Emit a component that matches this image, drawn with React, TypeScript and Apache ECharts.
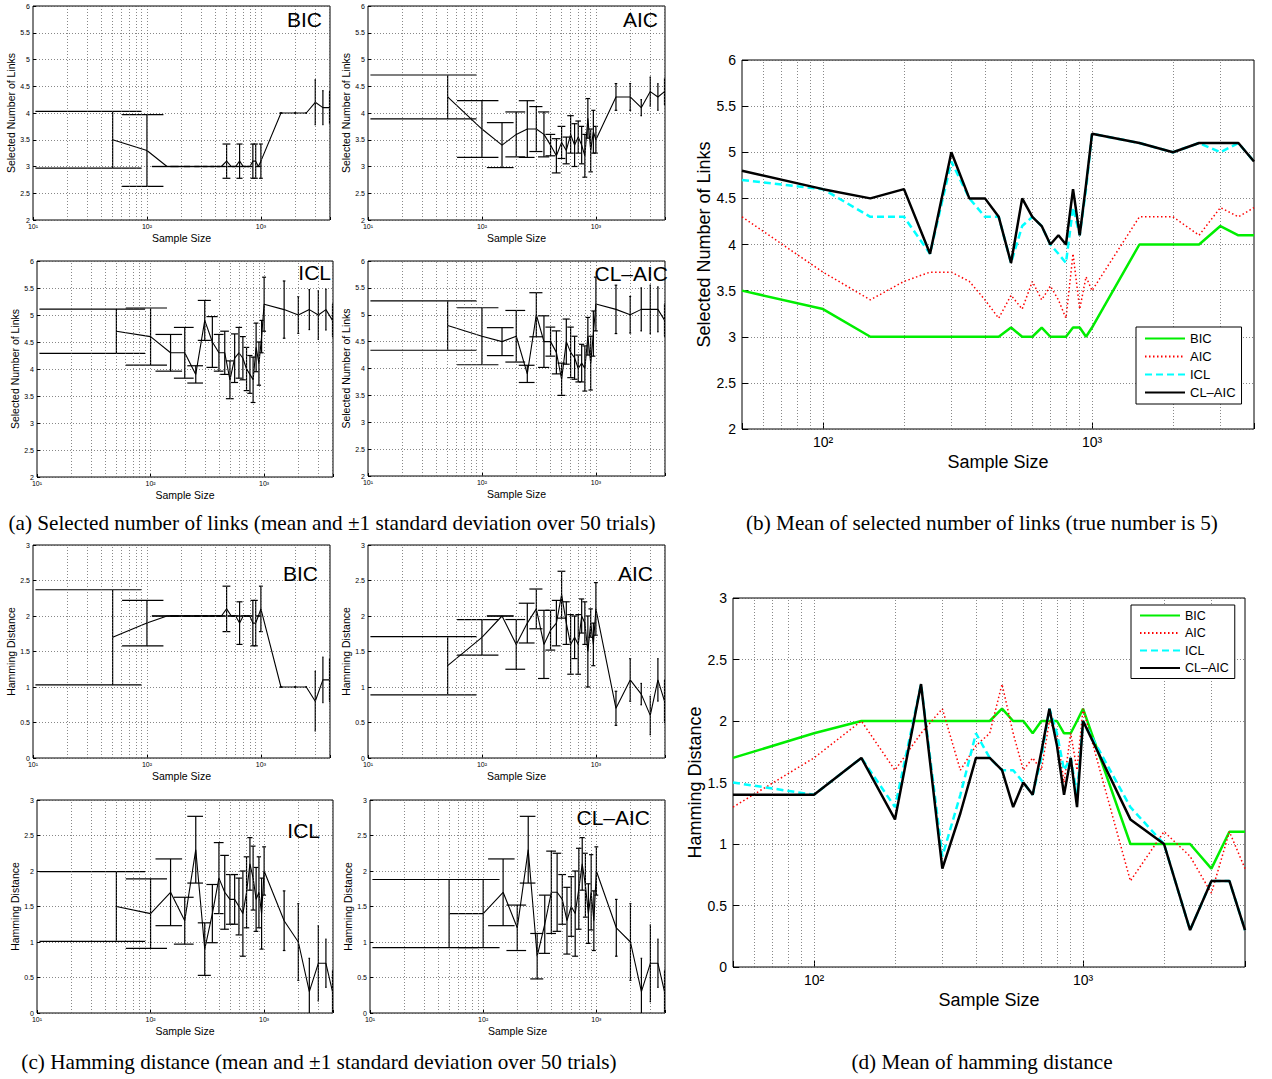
import React, { useEffect, useRef } from 'react';
import * as echarts from 'echarts';

const FONT = '"Liberation Sans", Arial, Helvetica, sans-serif';
const SERIF = '"Liberation Serif", "Times New Roman", serif';

// ---------------- data ----------------
const sampleSizes = [50, 100, 150, 200, 250, 300, 350, 400, 450, 500, 550, 600, 650, 700, 750, 800, 850, 900, 950, 1000, 1500, 2000, 2500, 3000, 3500, 4000];

const criteria = ['BIC', 'AIC', 'ICL', 'CL–AIC'];

// Selected number of links (mean / std over 50 trials)
const linksBicMean = [3.5, 3.3, 3.0, 3.0, 3.0, 3.0, 3.0, 3.0, 3.0, 3.1, 3.0, 3.0, 3.1, 3.0, 3.0, 3.0, 3.1, 3.1, 3.0, 3.1, 4.0, 4.0, 4.0, 4.2, 4.1, 4.1];
const linksBicStd = [0.53, 0.67, 0, 0, 0, 0, 0, 0, 0, 0.32, 0, 0, 0.32, 0, 0, 0, 0.32, 0.32, 0, 0.32, 0, 0, 0, 0.42, 0.32, 0.3];
const linksAicMean = [4.3, 3.7, 3.4, 3.6, 3.7, 3.7, 3.6, 3.4, 3.2, 3.45, 3.3, 3.6, 3.4, 3.55, 3.4, 3.2, 3.9, 3.3, 3.65, 3.5, 4.3, 4.3, 4.1, 4.4, 4.3, 4.4];
const linksAicStd = [0.41, 0.53, 0.42, 0.42, 0.53, 0.42, 0.42, 0.2, 0.32, 0.3, 0.25, 0.35, 0.4, 0.3, 0.35, 0.4, 0.37, 0.4, 0.4, 0.25, 0.25, 0.25, 0.15, 0.27, 0.25, 0.25];
const linksIclMean = [4.7, 4.6, 4.3, 4.3, 3.9, 4.9, 4.5, 4.3, 4.3, 3.8, 4.2, 4.3, 4.2, 4.0, 3.9, 3.8, 4.4, 4.1, 4.6, 5.2, 5.1, 5.0, 5.1, 5.0, 5.1, 4.9];
const linksIclStd = [0.41, 0.53, 0.34, 0.47, 0.16, 0.37, 0.47, 0.34, 0.4, 0.35, 0.45, 0.47, 0.4, 0.4, 0.35, 0.42, 0.45, 0.4, 0.3, 0.5, 0.53, 0.34, 0.37, 0.45, 0.38, 0.3];
const linksClaicMean = [4.8, 4.6, 4.5, 4.6, 3.9, 5.0, 4.5, 4.5, 4.3, 3.8, 4.5, 4.3, 4.2, 4.0, 4.1, 4.0, 4.6, 4.1, 4.65, 5.2, 5.1, 5.0, 5.1, 5.1, 5.1, 4.9];
const linksClaicStd = [0.46, 0.53, 0.26, 0.48, 0.16, 0.41, 0.48, 0.27, 0.4, 0.3, 0.42, 0.47, 0.4, 0.25, 0.35, 0.42, 0.35, 0.5, 0.42, 0.5, 0.45, 0.34, 0.4, 0.45, 0.42, 0.3];

// Hamming distance (mean / std over 50 trials)
const hamBicMean = [1.7, 1.9, 2.0, 2.0, 2.0, 2.0, 2.0, 2.0, 2.0, 2.1, 2.0, 2.0, 1.9, 2.0, 2.0, 2.0, 1.9, 1.9, 2.0, 2.1, 1.0, 1.0, 1.0, 0.8, 1.1, 1.1];
const hamBicStd = [0.67, 0.32, 0, 0, 0, 0, 0, 0, 0, 0.32, 0, 0, 0.3, 0, 0, 0, 0.32, 0.32, 0, 0.32, 0, 0, 0, 0.42, 0.32, 0.3];
const hamAicMean = [1.3, 1.7, 2.0, 1.6, 1.9, 2.1, 1.6, 1.8, 1.9, 2.3, 1.9, 1.6, 1.7, 1.6, 2.0, 1.9, 1.5, 1.9, 1.6, 2.1, 0.7, 1.1, 0.9, 0.6, 1.1, 0.8];
const hamAicStd = [0.41, 0.25, 0, 0.35, 0.28, 0.28, 0.48, 0.28, 0.32, 0.33, 0.3, 0.42, 0.3, 0.42, 0.24, 0.3, 0.5, 0.2, 0.3, 0.37, 0.24, 0.3, 0.15, 0.27, 0.3, 0.3];
const hamIclMean = [1.5, 1.4, 1.7, 1.3, 2.3, 0.9, 1.4, 1.9, 1.7, 1.6, 1.6, 1.5, 1.4, 1.7, 2.1, 1.9, 1.6, 1.7, 1.4, 2.0, 1.3, 1.0, 0.3, 0.7, 0.7, 0.3];
const hamIclStd = [0.49, 0.49, 0.47, 0.33, 0.47, 0.37, 0.41, 0.5, 0.52, 0.35, 0.35, 0.4, 0.6, 0.5, 0.37, 0.45, 0.45, 0.5, 0.5, 0.34, 0.42, 0.54, 0.47, 0.53, 0.34, 0.3];
const hamClaicMean = [1.4, 1.4, 1.7, 1.2, 2.3, 0.8, 1.25, 1.7, 1.7, 1.6, 1.3, 1.5, 1.4, 1.75, 2.1, 1.8, 1.4, 1.7, 1.3, 2.0, 1.2, 1.0, 0.3, 0.7, 0.7, 0.3];
const hamClaicStd = [0.48, 0.48, 0.47, 0.32, 0.47, 0.32, 0.41, 0.58, 0.55, 0.35, 0.47, 0.42, 0.6, 0.57, 0.37, 0.45, 0.42, 0.53, 0.42, 0.34, 0.4, 0.54, 0.47, 0.54, 0.34, 0.3];

// tick labels / grid positions
const linksYTicks = [2, 2.5, 3, 3.5, 4, 4.5, 5, 5.5, 6];
const hammingYTicks = [0, 0.5, 1, 1.5, 2, 2.5, 3];
const smallXRange = [10, 4040];
const bigXRange = [50, 4000];
const smallGridXs = [20, 30, 40, 50, 60, 70, 80, 90, 100, 200, 300, 400, 500, 600, 700, 800, 900, 1000, 2000, 3000, 4000];
const bigGridXs = [60, 70, 80, 90, 100, 200, 300, 400, 500, 600, 700, 800, 900, 1000, 2000, 3000];

const captions = [
  '(a) Selected number of links (mean and \u00B11 standard deviation over 50 trials)',
  '(b) Mean of selected number of links (true number is 5)',
  '(c) Hamming distance (mean and \u00B11 standard deviation over 50 trials)',
  '(d) Mean of hamming distance',
];

// ---------------- layout ----------------
const linksName = 'Selected Number of Links';
const hamName = 'Hamming Distance';

const smallPanels = [
  { title: 'BIC', means: linksBicMean, stds: linksBicStd, ticks: linksYTicks, yName: linksName, box: [33, 6, 297, 214], t: [322, 19] },
  { title: 'AIC', means: linksAicMean, stds: linksAicStd, ticks: linksYTicks, yName: linksName, box: [368, 6, 297, 214], t: [658, 19] },
  { title: 'ICL', means: linksIclMean, stds: linksIclStd, ticks: linksYTicks, yName: linksName, box: [37, 261, 296, 216], t: [331, 272] },
  { title: 'CL–AIC', means: linksClaicMean, stds: linksClaicStd, ticks: linksYTicks, yName: linksName, box: [368, 261, 297, 215], t: [668, 273] },
  { title: 'BIC', means: hamBicMean, stds: hamBicStd, ticks: hammingYTicks, yName: hamName, box: [33, 545, 297, 213], t: [318, 573] },
  { title: 'AIC', means: hamAicMean, stds: hamAicStd, ticks: hammingYTicks, yName: hamName, box: [368, 545, 297, 213], t: [653, 573] },
  { title: 'ICL', means: hamIclMean, stds: hamIclStd, ticks: hammingYTicks, yName: hamName, box: [37, 800, 296, 213], t: [320, 830] },
  { title: 'CL–AIC', means: hamClaicMean, stds: hamClaicStd, ticks: hammingYTicks, yName: hamName, box: [370, 800, 295, 213], t: [650, 817] },
];

const bigPanels = [
  { series: [linksBicMean, linksAicMean, linksIclMean, linksClaicMean], ticks: linksYTicks, yName: linksName, box: [742, 60, 512, 369] },
  { series: [hamBicMean, hamAicMean, hamIclMean, hamClaicMean], ticks: hammingYTicks, yName: hamName, box: [733, 598, 512, 369] },
];

const lineStyles = [
  { color: '#00ee00', width: 2.5, type: 'solid' },
  { color: '#ff0000', width: 1.5, type: [1.5, 2.5] },
  { color: '#00ffff', width: 2.5, type: [7, 4] },
  { color: '#000000', width: 2.5, type: 'solid' },
];

const SUP: Record<number, string> = { 0: '\u2070', 1: '\u00B9', 2: '\u00B2', 3: '\u00B3', 4: '\u2074' };
function powLabel(v: number) {
  const e = Math.log10(v);
  const r = Math.round(e);
  if (Math.abs(e - r) > 1e-6) return '';
  return '10' + SUP[r];
}

const CAP_HALF = (sampleSizes[sampleSizes.length - 1] - sampleSizes[0]) / 100;

function buildOption() {
  const grid: any[] = [];
  const xAxis: any[] = [];
  const yAxis: any[] = [];
  const series: any[] = [];
  const graphic: any[] = [];

  const addAxes = (gi: number, box: number[], ticks: number[], yName: string, big: boolean, xr: number[]) => {
    grid.push({ left: box[0], top: box[1], width: box[2], height: box[3], show: true, borderColor: '#000', borderWidth: 1, backgroundColor: '#fff', containLabel: false });
    xAxis.push({
      type: 'log', logBase: 10, gridIndex: gi, min: xr[0], max: xr[1],
      name: 'Sample Size', nameLocation: 'middle', nameGap: big ? 24 : 12,
      nameTextStyle: { fontFamily: FONT, fontSize: big ? 18 : 10.5, color: '#000' },
      axisLine: { show: false },
      axisTick: { show: true, inside: true, length: big ? 6 : 3, lineStyle: { color: '#000', width: 1 } },
      axisLabel: { formatter: powLabel, fontFamily: FONT, fontSize: big ? 14 : 7, color: '#000', margin: big ? 6 : 3, showMinLabel: true, showMaxLabel: true },
      splitLine: { show: false },
    });
    yAxis.push({
      type: 'value', gridIndex: gi, min: ticks[0], max: ticks[ticks.length - 1], interval: ticks[1] - ticks[0],
      name: yName, nameLocation: 'middle', nameGap: big ? 29 : 16,
      nameTextStyle: { fontFamily: FONT, fontSize: big ? 18 : 10.5, color: '#000' },
      axisLine: { show: false },
      axisTick: { show: true, inside: true, length: big ? 6 : 3, lineStyle: { color: '#000', width: 1 } },
      axisLabel: { fontFamily: FONT, fontSize: big ? 14 : 7, color: '#000', margin: big ? 6 : 3 },
      splitLine: { show: true, lineStyle: { type: [1, 2], color: '#555', width: 0.7 } },
    });
    // vertical (minor + major) grid lines of the log axis
    series.push({
      type: 'line', name: 'grid' + gi, xAxisIndex: gi, yAxisIndex: gi, data: [], silent: true, z: 1,
      markLine: {
        silent: true, symbol: ['none', 'none'], label: { show: false }, animation: false,
        lineStyle: { type: [1, 2], color: '#555', width: 0.7 },
        emphasis: { disabled: true },
        data: (big ? bigGridXs : smallGridXs).map((v) => ({ xAxis: v })),
      },
    });
  };

  smallPanels.forEach((p, i) => {
    addAxes(i, p.box, p.ticks, p.yName, false, smallXRange);
    series.push({
      type: 'custom', name: 'err' + i, xAxisIndex: i, yAxisIndex: i, clip: true, z: 3, silent: true,
      encode: { x: 0, y: [2, 3] },
      data: sampleSizes.map((x, k) => [x, p.means[k], p.means[k] - p.stds[k], p.means[k] + p.stds[k]]),
      renderItem: (params: any, api: any) => {
        const x = api.value(0);
        const lo = api.value(2);
        const hi = api.value(3);
        const a = api.coord([x, lo]);
        const b = api.coord([x, hi]);
        const l = api.coord([x - CAP_HALF, lo])[0];
        const r = api.coord([x + CAP_HALF, lo])[0];
        const style = { stroke: '#000', lineWidth: 1.2, fill: null };
        return {
          type: 'group',
          children: [
            { type: 'line', shape: { x1: a[0], y1: a[1], x2: b[0], y2: b[1] }, style },
            { type: 'line', shape: { x1: l, y1: a[1], x2: r, y2: a[1] }, style },
            { type: 'line', shape: { x1: l, y1: b[1], x2: r, y2: b[1] }, style },
          ],
        };
      },
    });
    series.push({
      type: 'line', name: 'mean' + i, xAxisIndex: i, yAxisIndex: i, z: 4, symbol: 'none', silent: true, clip: true,
      lineStyle: { color: '#000', width: 1.1 },
      data: sampleSizes.map((x, k) => [x, p.means[k]]),
    });
    graphic.push({
      type: 'text', x: p.t[0], y: p.t[1], z: 100,
      style: { text: p.title, fontFamily: FONT, fontSize: 21, fill: '#000', textAlign: 'right', textVerticalAlign: 'middle' },
    });
  });

  bigPanels.forEach((p, j) => {
    const gi = smallPanels.length + j;
    addAxes(gi, p.box, p.ticks, p.yName, true, bigXRange);
    p.series.forEach((vals, s) => {
      const ls = lineStyles[s];
      series.push({
        type: 'line', name: criteria[s], xAxisIndex: gi, yAxisIndex: gi, z: 3 + s, symbol: 'none', silent: true, clip: true,
        lineStyle: { color: ls.color, width: ls.width, type: ls.type, cap: 'butt' },
        itemStyle: { color: ls.color, opacity: 0 },
        data: sampleSizes.map((x, k) => [x, vals[k]]),
      });
    });
  });

  const legendBase = {
    data: criteria, orient: 'vertical', itemWidth: 40, borderColor: '#000', borderWidth: 1,
    backgroundColor: '#fff', borderRadius: 0, selectedMode: false, z: 50,
    itemStyle: { opacity: 0 },
  };
  const legend = [
    { ...legendBase, left: 1136, top: 327, itemHeight: 14, itemGap: 5, padding: [5, 6, 5, 8], textStyle: { fontFamily: FONT, fontSize: 13, color: '#000' } },
    { ...legendBase, left: 1131, top: 605, itemHeight: 12, itemGap: 4.5, padding: [4, 6, 4, 8], textStyle: { fontFamily: FONT, fontSize: 12.5, color: '#000' } },
  ];

  const capPos = [[332, 523], [982, 523], [319, 1062], [982, 1062]];
  captions.forEach((c, i) => {
    graphic.push({
      type: 'text', x: capPos[i][0], y: capPos[i][1], z: 100,
      style: { text: c, fontFamily: SERIF, fontSize: 21.2, fill: '#000', textAlign: 'center', textVerticalAlign: 'middle' },
    });
  });

  return {
    animation: false,
    backgroundColor: '#fff',
    textStyle: { fontFamily: FONT },
    grid, xAxis, yAxis, series, legend, graphic,
  };
}

export default function App() {
  const ref = useRef<HTMLDivElement>(null);
  useEffect(() => {
    document.body.style.margin = '0';
    const chart = echarts.init(ref.current as HTMLDivElement, null, { renderer: 'svg', width: 1272, height: 1079 });
    chart.setOption(buildOption() as any);
    return () => chart.dispose();
  }, []);
  return <div ref={ref} style={{ width: 1272, height: 1079, background: '#fff' }} />;
}
